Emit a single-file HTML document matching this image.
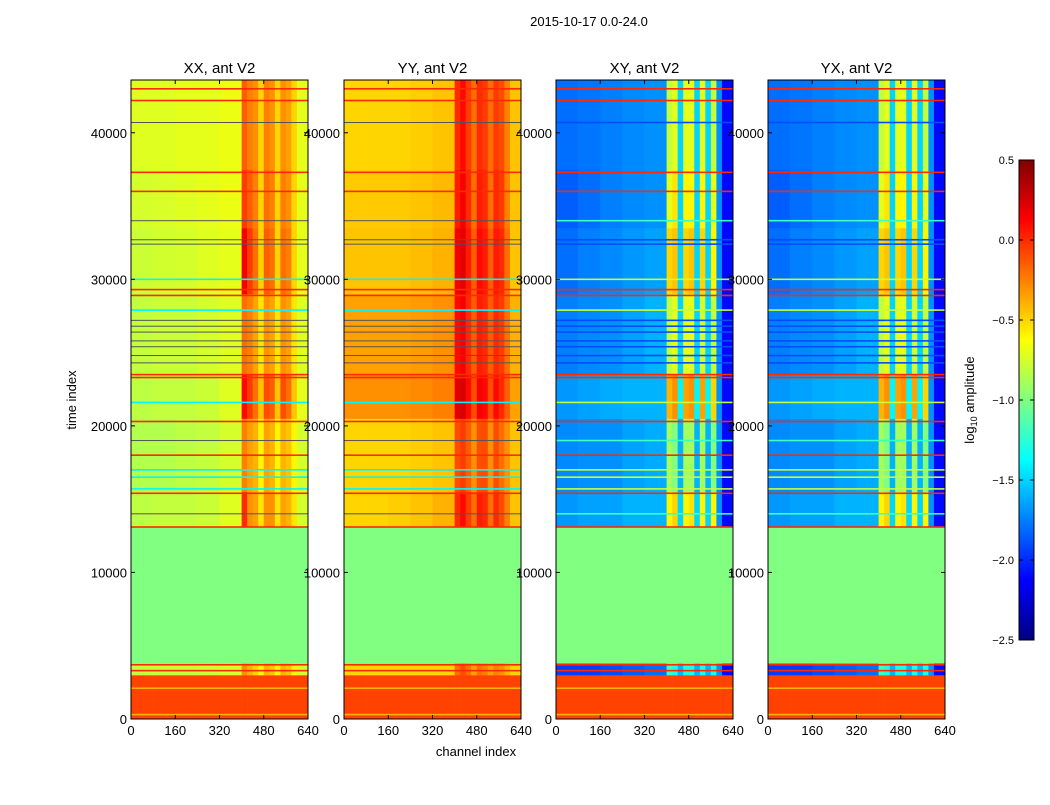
<!DOCTYPE html>
<html><head><meta charset="utf-8">
<style>
body{margin:0;background:#fff;font-family:"Liberation Sans",sans-serif;}
svg text{font-family:"Liberation Sans",sans-serif;fill:#000;}
</style></head>
<body>
<svg id="fig" width="1050" height="800" viewBox="0 0 1050 800" xmlns="http://www.w3.org/2000/svg">
<defs>
<linearGradient id="jetg" x1="0" y1="1" x2="0" y2="0">
<stop offset="0" stop-color="#000080"/><stop offset="0.125" stop-color="#0000ff"/>
<stop offset="0.375" stop-color="#00ffff"/><stop offset="0.625" stop-color="#ffff00"/>
<stop offset="0.875" stop-color="#ff0000"/><stop offset="1" stop-color="#800000"/>
</linearGradient>
</defs>
<rect width="1050" height="800" fill="#fff"/>
<text x="589" y="26" font-size="13" text-anchor="middle">2015-10-17 0.0-24.0</text>
<text x="476" y="756" font-size="13" text-anchor="middle">channel index</text>
<text x="76" y="400" font-size="13" text-anchor="middle" transform="rotate(-90 76 400)">time index</text>
<g id="panels"></g>
<g id="cbar">
<rect x="1019" y="160" width="15" height="480" fill="url(#jetg)" stroke="#000" stroke-width="1"/>
<text x="974" y="400" font-size="13" text-anchor="middle" transform="rotate(-90 974 400)">log<tspan font-size="9" dy="3">10</tspan><tspan dy="-3"> amplitude</tspan></text>
</g>
</svg>
<script>
const NS="http://www.w3.org/2000/svg";
const panelTitles=["XX, ant V2","YY, ant V2","XY, ant V2","YX, ant V2"];
const timeEdges=[0,300,3000,3800,13100,15500,20500,23500,29000,33500,37500,43600];
const chanEdges=[0,80,160,240,320,400,420,440,460,480,500,520,540,560,580,600,640];
const xTicks=[0,160,320,480,640];
const yTicks=[0,10000,20000,30000,40000];
const cbarTicks=[0.5,0.0,-0.5,-1.0,-1.5,-2.0,-2.5];
const xxValues=[
[-0.07,-0.07,-0.07,-0.07,-0.07,-0.07,-0.07,-0.07,-0.07,-0.07,-0.07,-0.07,-0.07,-0.07,-0.07,-0.07],
[-0.07,-0.07,-0.07,-0.07,-0.07,-0.07,-0.07,-0.07,-0.07,-0.07,-0.07,-0.07,-0.07,-0.07,-0.07,-0.07],
[-0.8,-0.8,-0.8,-0.78,-0.75,-0.3,-0.4,-0.5,-0.6,-0.4,-0.45,-0.6,-0.4,-0.45,-0.6,-0.75],
[-1,-1,-1,-1,-1,-1,-1,-1,-1,-1,-1,-1,-1,-1,-1,-1],
[-0.82,-0.8,-0.8,-0.78,-0.72,0.0,-0.3,-0.35,-0.55,-0.3,-0.3,-0.55,-0.35,-0.4,-0.55,-0.75],
[-0.85,-0.85,-0.82,-0.8,-0.75,-0.25,-0.35,-0.4,-0.6,-0.35,-0.4,-0.6,-0.4,-0.45,-0.6,-0.75],
[-0.82,-0.8,-0.8,-0.78,-0.72,0.1,-0.05,-0.2,-0.45,-0.1,-0.15,-0.45,-0.1,-0.2,-0.45,-0.7],
[-0.8,-0.78,-0.78,-0.75,-0.72,-0.2,-0.25,-0.35,-0.55,-0.3,-0.35,-0.55,-0.3,-0.35,-0.55,-0.72],
[-0.78,-0.76,-0.75,-0.72,-0.7,0.15,-0.05,-0.2,-0.5,-0.15,-0.2,-0.5,-0.2,-0.25,-0.5,-0.7],
[-0.75,-0.74,-0.72,-0.7,-0.68,-0.05,-0.15,-0.25,-0.5,-0.2,-0.25,-0.5,-0.25,-0.3,-0.5,-0.7],
[-0.72,-0.72,-0.7,-0.7,-0.68,-0.15,-0.25,-0.3,-0.5,-0.25,-0.3,-0.5,-0.3,-0.35,-0.5,-0.7]];
const yyValues=[
[-0.07,-0.07,-0.07,-0.07,-0.07,-0.07,-0.07,-0.07,-0.07,-0.07,-0.07,-0.07,-0.07,-0.07,-0.07,-0.07],
[-0.07,-0.07,-0.07,-0.07,-0.07,-0.07,-0.07,-0.07,-0.07,-0.07,-0.07,-0.07,-0.07,-0.07,-0.07,-0.07],
[-0.5,-0.5,-0.5,-0.5,-0.5,-0.2,-0.1,-0.2,-0.35,-0.2,-0.25,-0.35,-0.25,-0.3,-0.4,-0.5],
[-1,-1,-1,-1,-1,-1,-1,-1,-1,-1,-1,-1,-1,-1,-1,-1],
[-0.5,-0.5,-0.48,-0.45,-0.4,0.0,0.1,-0.05,-0.2,0.05,0.0,-0.2,0.0,-0.1,-0.25,-0.45],
[-0.5,-0.5,-0.5,-0.48,-0.45,-0.1,-0.05,-0.15,-0.3,-0.1,-0.1,-0.3,-0.1,-0.2,-0.3,-0.45],
[-0.3,-0.3,-0.3,-0.28,-0.25,0.2,0.25,0.1,-0.1,0.15,0.1,-0.1,0.1,0.0,-0.15,-0.35],
[-0.35,-0.35,-0.35,-0.33,-0.3,0.1,0.15,0.0,-0.15,0.05,0.0,-0.15,0.0,-0.05,-0.2,-0.4],
[-0.45,-0.45,-0.45,-0.43,-0.4,0.15,0.2,0.05,-0.15,0.1,0.05,-0.15,0.05,0.0,-0.2,-0.45],
[-0.47,-0.47,-0.47,-0.45,-0.42,0.05,0.15,0.0,-0.2,0.05,0.0,-0.2,0.0,-0.05,-0.25,-0.45],
[-0.5,-0.5,-0.5,-0.48,-0.45,0.0,0.1,-0.05,-0.2,0.0,-0.05,-0.2,-0.05,-0.1,-0.25,-0.45]];
const xyValues=[
[-0.07,-0.07,-0.07,-0.07,-0.07,-0.07,-0.07,-0.07,-0.07,-0.07,-0.07,-0.07,-0.07,-0.07,-0.07,-0.07],
[-0.07,-0.07,-0.07,-0.07,-0.07,-0.07,-0.07,-0.07,-0.07,-0.07,-0.07,-0.07,-0.07,-0.07,-0.07,-0.07],
[-1.95,-1.95,-1.9,-1.85,-1.8,-1.2,-1.3,-1.6,-1.3,-1.3,-1.6,-1.3,-1.6,-1.3,-1.7,-2.1],
[-1,-1,-1,-1,-1,-1,-1,-1,-1,-1,-1,-1,-1,-1,-1,-1],
[-1.68,-1.65,-1.65,-1.6,-1.6,-0.6,-0.5,-1.5,-0.6,-0.55,-1.5,-0.6,-1.5,-0.6,-1.7,-2.1],
[-1.72,-1.7,-1.7,-1.65,-1.62,-0.9,-1.0,-1.6,-0.9,-0.9,-1.6,-0.9,-1.6,-1.0,-1.7,-2.1],
[-1.68,-1.65,-1.62,-1.6,-1.6,-0.4,-0.3,-1.4,-0.35,-0.3,-1.4,-0.35,-1.4,-0.5,-1.7,-2.1],
[-1.75,-1.72,-1.7,-1.65,-1.6,-0.8,-0.7,-1.5,-0.7,-0.7,-1.5,-0.75,-1.5,-0.8,-1.7,-2.1],
[-1.8,-1.75,-1.72,-1.68,-1.65,-0.5,-0.45,-1.5,-0.5,-0.45,-1.5,-0.5,-1.5,-0.6,-1.7,-2.1],
[-1.85,-1.8,-1.75,-1.72,-1.7,-0.7,-0.55,-1.5,-0.6,-0.6,-1.5,-0.6,-1.5,-0.7,-1.7,-2.1],
[-1.8,-1.78,-1.75,-1.72,-1.7,-0.8,-0.7,-1.5,-0.7,-0.7,-1.5,-0.7,-1.5,-0.8,-1.7,-2.1]];
const yxValues=[
[-0.07,-0.07,-0.07,-0.07,-0.07,-0.07,-0.07,-0.07,-0.07,-0.07,-0.07,-0.07,-0.07,-0.07,-0.07,-0.07],
[-0.07,-0.07,-0.07,-0.07,-0.07,-0.07,-0.07,-0.07,-0.07,-0.07,-0.07,-0.07,-0.07,-0.07,-0.07,-0.07],
[-1.95,-1.95,-1.9,-1.85,-1.8,-1.2,-1.3,-1.6,-1.3,-1.3,-1.6,-1.3,-1.6,-1.3,-1.7,-2.1],
[-1,-1,-1,-1,-1,-1,-1,-1,-1,-1,-1,-1,-1,-1,-1,-1],
[-1.68,-1.65,-1.65,-1.6,-1.6,-0.6,-0.5,-1.5,-0.6,-0.55,-1.5,-0.6,-1.5,-0.6,-1.7,-2.1],
[-1.72,-1.7,-1.7,-1.65,-1.62,-0.9,-1.0,-1.6,-0.9,-0.9,-1.6,-0.9,-1.6,-1.0,-1.7,-2.1],
[-1.68,-1.65,-1.62,-1.6,-1.6,-0.4,-0.3,-1.4,-0.35,-0.3,-1.4,-0.35,-1.4,-0.5,-1.7,-2.1],
[-1.75,-1.72,-1.7,-1.65,-1.6,-0.8,-0.7,-1.5,-0.7,-0.7,-1.5,-0.75,-1.5,-0.8,-1.7,-2.1],
[-1.8,-1.75,-1.72,-1.68,-1.65,-0.5,-0.45,-1.5,-0.5,-0.45,-1.5,-0.5,-1.5,-0.6,-1.7,-2.1],
[-1.85,-1.8,-1.75,-1.72,-1.7,-0.7,-0.55,-1.5,-0.6,-0.6,-1.5,-0.6,-1.5,-0.7,-1.7,-2.1],
[-1.8,-1.78,-1.75,-1.72,-1.7,-0.8,-0.7,-1.5,-0.7,-0.7,-1.5,-0.7,-1.5,-0.8,-1.7,-2.1]];
const panelValues=[xxValues,yyValues,xyValues,yxValues];
const lineTimes=[43000,42200,40700,37300,36000,34000,32700,32400,30000,29300,28900,27900,27200,26800,26400,25800,25400,24800,24300,23500,23300,21600,20300,19000,18000,17000,16500,15700,15400,14000,13100,3700,3300,2100,300];
const lineXX=[0,0,null,0,0,null,null,null,-1.4,0,0,-1.4,null,null,null,null,null,null,null,0,0,-1.4,0,null,0,-1.4,-1.4,-1.4,0,null,0,0,0,-0.4,-0.4];
const lineYY=[0,0,null,0,0,null,null,null,-1.4,0,0,-1.4,null,null,null,null,null,null,null,0,0,-1.4,0,null,0,-1.4,-1.4,-1.4,0,null,0,0,0,-0.4,-0.4];
const lineXY=[0,0,-1.9,0,0,-1.2,-1.9,-1.9,-0.8,0,0,-0.8,-1.9,-1.9,-1.9,-1.9,-1.9,-1.9,-1.9,0,0,-0.8,0,-1.2,0,-0.8,-0.8,-0.8,0,-1.2,0,0,0,-0.4,-0.4];
const lineYX=[0,0,-1.9,0,0,-1.2,-1.9,-1.9,-0.8,0,0,-0.8,-1.9,-1.9,-1.9,-1.9,-1.9,-1.9,-1.9,0,0,-0.8,0,-1.2,0,-0.8,-0.8,-0.8,0,-1.2,0,0,0,-0.4,-0.4];
const panelLines=[lineXX,lineYY,lineXY,lineYX];

const panelLeft=[131,344,556,768], panelW=177, plotTop=80, plotBottom=719;
const tMax=43600, chMax=640, vmin=-2.5, vmax=0.5;
function xScale(p,ch){return panelLeft[p]+ch/chMax*panelW;}
function yScale(t){return plotBottom-t/tMax*(plotBottom-plotTop);}
function cbY(v){return 640-(v-vmin)/(vmax-vmin)*480;}
function jet(v){
  if(v===null) return "#555555";
  let x=Math.max(0,Math.min(1,(v-vmin)/(vmax-vmin)));
  const c=k=>Math.round(255*Math.max(0,Math.min(1,1.5-Math.abs(4*x-k))));
  return `rgb(${c(3)},${c(2)},${c(1)})`;
}
function mk(tag,attrs,parent){const e=document.createElementNS(NS,tag);for(const k in attrs)e.setAttribute(k,attrs[k]);parent.appendChild(e);return e;}
const root=document.getElementById('panels');
for(let p=0;p<4;p++){
  const g=mk('g',{},root);
  
  
  const vals=panelValues[p];
  for(let i=0;i<timeEdges.length-1;i++){
    for(let j=0;j<chanEdges.length-1;j++){
      const x0=xScale(p,chanEdges[j]),x1=xScale(p,chanEdges[j+1]);
      const y0=yScale(timeEdges[i+1]),y1=yScale(timeEdges[i]);
      const r=mk('rect',{x:x0,y:y0,width:x1-x0+0.3,height:y1-y0+0.3,fill:jet(vals[i][j])},g);
      
      
    }
  }
  const lv=panelLines[p];
  for(let k=0;k<lineTimes.length;k++){
    const y=yScale(lineTimes[k]);
    const h=lv[k]===null?1:1.6;
    const l=mk('rect',{x:panelLeft[p],y:y-h/2,width:panelW,height:h,fill:jet(lv[k])},g);
    
    
  }
  const fr=mk('rect',{x:panelLeft[p],y:plotTop,width:panelW,height:plotBottom-plotTop,fill:'none',stroke:'#000','stroke-width':1},g);
  
  
  const t=mk('text',{x:panelLeft[p]+panelW/2,y:73,'font-size':15,'text-anchor':'middle'},g);
  t.textContent=panelTitles[p];
  
  
  for(const xt of xTicks){
    const x=xScale(p,xt);
    mk('line',{x1:x,x2:x,y1:plotBottom,y2:plotBottom-4,stroke:'#000'},g);
    mk('line',{x1:x,x2:x,y1:plotTop,y2:plotTop+4,stroke:'#000'},g);
    const tx=mk('text',{x:x,y:plotBottom+16,'font-size':13,'text-anchor':'middle'},g);
    tx.textContent=xt;
    
    
  }
  for(const yt of yTicks){
    const y=yScale(yt);
    mk('line',{x1:panelLeft[p],x2:panelLeft[p]+4,y1:y,y2:y,stroke:'#000'},g);
    mk('line',{x1:panelLeft[p]+panelW,x2:panelLeft[p]+panelW-4,y1:y,y2:y,stroke:'#000'},g);
    const ty=mk('text',{x:panelLeft[p]-4,y:y+5,'font-size':13,'text-anchor':'end'},g);
    ty.textContent=yt;
    
    
  }
}
const cb=document.getElementById('cbar');
for(const v of cbarTicks){
  const y=cbY(v);
  mk('line',{x1:1034,x2:1030,y1:y,y2:y,stroke:'#000'},cb);
  mk('line',{x1:1019,x2:1023,y1:y,y2:y,stroke:'#000'},cb);
  const t=mk('text',{x:1014,y:y+4,'font-size':11,'text-anchor':'end'},cb);
  t.textContent=(v<0?'\u2212':'')+Math.abs(v).toFixed(1);
  
  
}
</script>
</body></html>
